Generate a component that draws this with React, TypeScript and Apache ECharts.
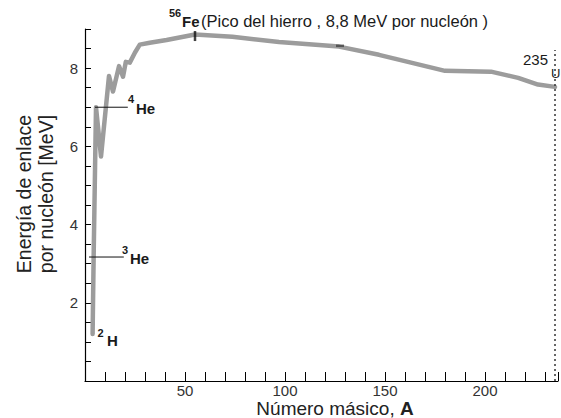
import React, { useEffect, useRef } from "react";
import * as echarts from "echarts";

// Mass number A and binding energy per nucleon (MeV)
const MASS_NUMBER = [3.8, 4.3, 5.5, 8, 12, 14, 17, 19, 20.4, 22.4, 25, 27.4, 32.4, 40.8, 55, 73.7, 97, 127, 147, 163, 180, 203, 216.6, 226.5, 235];
const BINDING_ENERGY = [1.2, 3.1, 7.0, 5.74, 7.8, 7.4, 8.05, 7.78, 8.16, 8.14, 8.4, 8.6, 8.65, 8.72, 8.86, 8.8, 8.67, 8.55, 8.34, 8.14, 7.93, 7.91, 7.75, 7.58, 7.52];

// Annotation pointers
const HE4_LINE_A = [5, 21.4];
const HE4_VALUE = 7.0;
const HE3_LINE_A = [2, 19.4];
const HE3_VALUE = 3.17;
const FE_A = 55;
const FE_VALUE = 8.82;
const MARK_A = 127.5;
const MARK_VALUE = 8.57;
const U235_A = 235;
const U235_TOP = 8.46;

const X_LABELS = [50, 100, 150, 200];
const Y_LABELS = [2, 4, 6, 8];

const FONT = "'Liberation Sans', Arial, Helvetica, sans-serif";

export default function App() {
  const ref = useRef<HTMLDivElement>(null);
  useEffect(() => {
    const chart = echarts.init(ref.current!, null, { renderer: "svg" });
    const txt = (
      x: number,
      y: number,
      text: string,
      size: number,
      bold: boolean,
      align: string = "left",
      extra: any = {}
    ) => ({
      type: "text",
      x,
      y,
      style: {
        text,
        fontSize: size,
        fontWeight: bold ? "bold" : "normal",
        fontFamily: FONT,
        fill: "#1a1a1a",
        align,
        verticalAlign: "middle",
      },
      ...extra,
    });
    chart.setOption({
      animation: false,
      backgroundColor: "#fff",
      grid: { left: 85, right: 1, top: 29, bottom: 37, containLabel: false },
      xAxis: {
        type: "value",
        min: 0,
        max: 236.5,
        interval: 10,
        axisLine: { lineStyle: { color: "#000", width: 1.2 } },
        axisTick: { inside: true, length: 9, lineStyle: { color: "#000", width: 1 } },
        axisLabel: {
          formatter: (v: number) => (X_LABELS.includes(v) ? String(v) : ""),
          fontSize: 15,
          color: "#333",
          margin: 2,
          fontFamily: FONT,
        },
        splitLine: { show: false },
      },
      yAxis: {
        type: "value",
        min: 0,
        max: 9,
        interval: 0.5,
        axisLine: { show: true, lineStyle: { color: "#000", width: 1.2 } },
        axisTick: { show: true, inside: true, length: 6, lineStyle: { color: "#000", width: 1 } },
        axisLabel: {
          formatter: (v: number) => (Y_LABELS.includes(v) ? String(v) : ""),
          fontSize: 15,
          color: "#333",
          margin: 7,
          fontFamily: FONT,
        },
        splitLine: { show: false },
      },
      series: [
        {
          type: "line",
          data: MASS_NUMBER.map((a, i) => [a, BINDING_ENERGY[i]]),
          symbol: "none",
          lineStyle: { color: "#9c9c9c", width: 4.5, cap: "round", join: "round" },
          z: 2,
        },
        {
          type: "line",
          data: HE4_LINE_A.map((a) => [a, HE4_VALUE]),
          symbol: "none",
          lineStyle: { color: "#111", width: 1 },
          z: 3,
        },
        {
          type: "line",
          data: HE3_LINE_A.map((a) => [a, HE3_VALUE]),
          symbol: "none",
          lineStyle: { color: "#111", width: 1 },
          z: 3,
        },
        {
          type: "line",
          data: [
            [U235_A, 0],
            [U235_A, U235_TOP],
          ],
          symbol: "none",
          lineStyle: { color: "#333", width: 1.5, type: [2, 3] },
          z: 3,
        },
        {
          type: "scatter",
          data: [[FE_A, FE_VALUE]],
          symbol: "rect",
          symbolSize: [2.5, 10],
          itemStyle: { color: "#111" },
          z: 4,
        },
        {
          type: "scatter",
          data: [[MARK_A, MARK_VALUE]],
          symbol: "rect",
          symbolSize: [8, 2.5],
          itemStyle: { color: "#444" },
          z: 4,
        },
      ],
      graphic: [
        txt(175, 13, "56", 11, true, "center"),
        txt(182, 21, "Fe", 15, true),
        txt(201, 21, "(Pico del hierro , 8,8 MeV por nucleón )", 16.5, false),
        txt(131, 99, "4", 11, true, "center"),
        txt(136, 108, "He", 15, true),
        txt(125, 250, "3", 11, true, "center"),
        txt(130, 258, "He", 15, true),
        txt(100.5, 333, "2", 11, true, "center"),
        txt(107, 340, "H", 15, true),
        txt(548, 59, "235", 15, false, "right"),
        txt(551, 73, "U", 13, false),
        {
          type: "text",
          x: 35,
          y: 194,
          rotation: Math.PI / 2,
          style: {
            text: "Energía de enlace\npor nucleón [MeV]",
            fontSize: 19.5,
            lineHeight: 22,
            fontFamily: FONT,
            fill: "#222",
            align: "center",
            verticalAlign: "middle",
          },
        },
        {
          type: "text",
          x: 335,
          y: 408,
          style: {
            text: "{n|Número másico, }{b|A}",
            fontFamily: FONT,
            align: "center",
            verticalAlign: "middle",
            rich: {
              n: { fontSize: 19, fontFamily: FONT, fill: "#222" },
              b: { fontSize: 19, fontFamily: FONT, fontWeight: "bold", fill: "#222" },
            },
          },
        },
      ],
    });
    return () => chart.dispose();
  }, []);
  return (
    <div
      ref={ref}
      style={{ position: "fixed", left: 0, top: 0, width: 561, height: 418, background: "#fff" }}
    />
  );
}
